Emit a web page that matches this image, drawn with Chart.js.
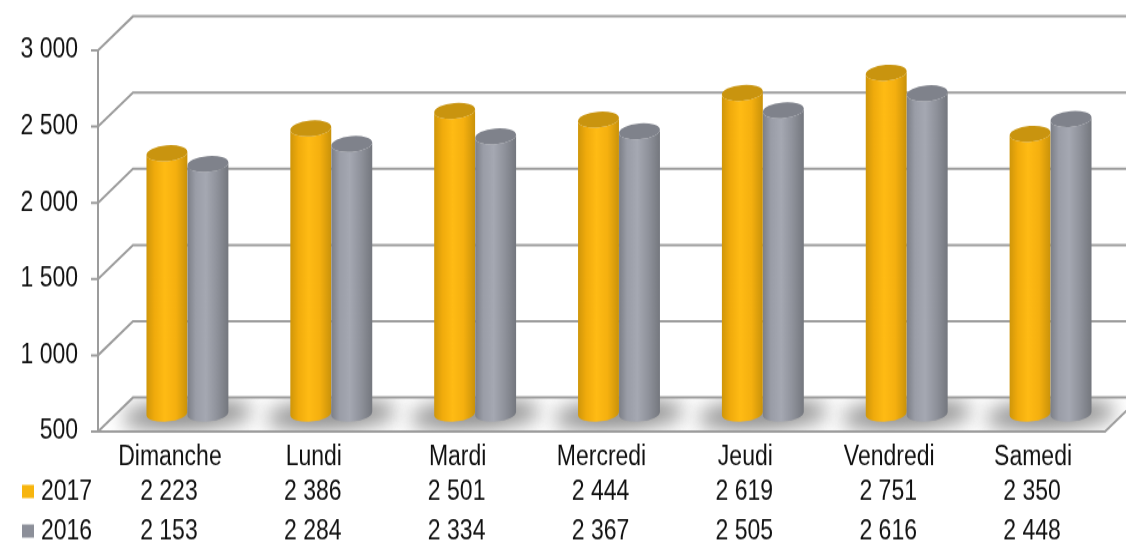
<!DOCTYPE html>
<html>
<head>
<meta charset="utf-8">
<title>Jours</title>
<script src="https://cdn.jsdelivr.net/npm/chart.js@4/dist/chart.umd.min.js"></script>
<style>
    html, body { margin: 0; padding: 0; background: #fff; width: 1126px; height: 543px; overflow: hidden; }
    /* the reference text is stretched vertically, so the whole chart is too */
    #wrap { width: 1126px; height: 453px; transform: scale(1, 1.1987); transform-origin: 0 0; }
</style>
</head>
<body>
<div id="wrap"><canvas id="myChart" width="1126" height="453"></canvas></div>
<script>
var days = ['Dimanche', 'Lundi', 'Mardi', 'Mercredi', 'Jeudi', 'Vendredi', 'Samedi'];
var values2017 = [2223, 2386, 2501, 2444, 2619, 2751, 2350];
var values2016 = [2153, 2284, 2334, 2367, 2505, 2616, 2448];
var yTicks = [500, 1000, 1500, 2000, 2500, 3000];

var FONT = '23px "Liberation Sans", Arial, sans-serif';
var TEXT = '#111111';
var WALL = '#9c9c9c';
var DEPTH_X = 35, DEPTH_Y = 28.4;      // depth of the fake 3d box
var BAR_DX = 17.5, BAR_DY = 13, FOOT_DY = 15;      // bars stand in the middle of the floor
var RY = 6.6, TILT = -0.07;            // ellipse of the cylinders
var ROW_Y = { 2017: 411, 2016: 444 };

var gold = { top: '#c9940f', stops: ['#cf960a', '#f0ab0c', '#ffbb14', '#f5b00f', '#c9920a'], key: '#f7b50e' };
var grey = { top: '#7f828b', stops: ['#7c7f87', '#9a9da7', '#a5a8b2', '#8f929b', '#74777e'], key: '#8c8f99' };

function fmt(v) {
    return String(v).replace(/\B(?=(\d{3})+$)/g, ' ');
}

function line(ctx, pts) {
    ctx.beginPath();
    pts.forEach(function(p, i) { i ? ctx.lineTo(p[0], p[1]) : ctx.moveTo(p[0], p[1]); });
    ctx.stroke();
}

// walls, floor and the soft shadows under each pair of bars
var box3d = {
    id: 'box3d',
    beforeDatasetsDraw: function(chart) {
        var ctx = chart.ctx, a = chart.chartArea, y = chart.scales.y;
        ctx.save();
        ctx.strokeStyle = WALL;
        ctx.lineWidth = 2;

        ctx.save();
        ctx.beginPath();
        ctx.moveTo(a.left, a.bottom);
        ctx.lineTo(a.right, a.bottom);
        ctx.lineTo(a.right + DEPTH_X, a.bottom - DEPTH_Y);
        ctx.lineTo(a.left + DEPTH_X, a.bottom - DEPTH_Y);
        ctx.closePath();
        ctx.clip();
        ctx.filter = 'blur(9px)';
        ctx.fillStyle = '#808080';
        chart.scales.x.ticks.forEach(function(t, i) {
            var cx = chart.scales.x.getPixelForTick(i) + BAR_DX;
            ctx.beginPath();
            ctx.ellipse(cx, a.bottom - 14, 66, 11, -0.05, 0, Math.PI * 2);
            ctx.fill();
        });
        ctx.restore();

        yTicks.forEach(function(v) {
            var py = y.getPixelForValue(v);
            line(ctx, [[a.left - 7, py], [a.left, py], [a.left + DEPTH_X, py - DEPTH_Y], [a.right + DEPTH_X, py - DEPTH_Y]]);
        });
        line(ctx, [[a.left, a.top], [a.left, a.bottom]]);
        line(ctx, [[a.left, a.bottom], [a.right, a.bottom], [a.right + DEPTH_X, a.bottom - DEPTH_Y]]);
        ctx.restore();
    },
    afterDatasetsDraw: function(chart) {
        var ctx = chart.ctx;
        days.forEach(function(d, i) {
            [0, 1].forEach(function(ds) {
                var bar = chart.getDatasetMeta(ds).data[i];
                drawCylinder(ctx, bar, ds === 0 ? gold : grey);
            });
        });
        drawTable(chart);
    }
};

function drawCylinder(ctx, bar, col) {
    var x = bar.x + BAR_DX, rx = bar.width / 2;
    var top = bar.y - BAR_DY, bot = bar.base - FOOT_DY;
    var g = ctx.createLinearGradient(x - rx, 0, x + rx, 0);
    [0, 0.2, 0.45, 0.72, 1].forEach(function(s, i) { g.addColorStop(s, col.stops[i]); });
    ctx.save();
    ctx.fillStyle = g;
    ctx.beginPath();
    ctx.ellipse(x, top, rx, RY, TILT, Math.PI, 0, true);
    ctx.ellipse(x, bot, rx, RY, TILT, 0, Math.PI, false);
    ctx.closePath();
    ctx.fill();
    ctx.fillStyle = col.top;
    ctx.beginPath();
    ctx.ellipse(x, top, rx, RY, TILT, 0, Math.PI * 2);
    ctx.fill();
    ctx.restore();
}

function drawTable(chart) {
    var ctx = chart.ctx, x = chart.scales.x;
    var rows = [[2017, values2017, gold], [2016, values2016, grey]];
    ctx.save();
    ctx.font = FONT;
    ctx.fillStyle = TEXT;
    ctx.textBaseline = 'middle';
    rows.forEach(function(r) {
        var py = ROW_Y[r[0]];
        ctx.fillStyle = r[2].key;
        ctx.fillRect(22, py - 6.5, 12, 11);
        ctx.fillStyle = TEXT;
        ctx.textAlign = 'left';
        ctx.fillText(String(r[0]), 41, py);
        ctx.textAlign = 'center';
        r[1].forEach(function(v, i) {
            ctx.fillText(fmt(v), x.getPixelForTick(i) - 1, py);
        });
    });
    ctx.restore();
}

var ctx = document.getElementById('myChart').getContext('2d');

var chart = new Chart(ctx, {
    type: 'bar',
    plugins: [box3d],
    data: {
        labels: days,
        datasets: [
            { label: '2017', data: values2017, base: 500, backgroundColor: 'rgba(0,0,0,0)' },
            { label: '2016', data: values2016, base: 500, backgroundColor: 'rgba(0,0,0,0)' }
        ]
    },
    options: {
        responsive: false,
        animation: false,
        categoryPercentage: 0.57,
        barPercentage: 1,
        layout: { padding: { top: 42, right: 21, left: 0, bottom: 0 } },
        plugins: { legend: { display: false }, tooltip: { enabled: false } },
        scales: {
            x: {
                grid: { display: false, drawTicks: false },
                border: { display: false },
                ticks: { font: { family: '"Liberation Sans", Arial, sans-serif', size: 23 }, color: TEXT, padding: 8, maxRotation: 0, autoSkip: false },
                afterFit: function(scale) { scale.height = 93; }
            },
            y: {
                min: 500,
                max: 3000,
                grid: { display: false, drawTicks: false },
                border: { display: false },
                afterBuildTicks: function(scale) { scale.ticks = yTicks.map(function(v) { return { value: v }; }); },
                ticks: {
                    font: { family: '"Liberation Sans", Arial, sans-serif', size: 23 },
                    color: TEXT,
                    padding: 20,
                    callback: function(v) { return fmt(v); }
                },
                afterFit: function(scale) { scale.width = 98; }
            }
        }
    }
});
</script>
</body>
</html>
